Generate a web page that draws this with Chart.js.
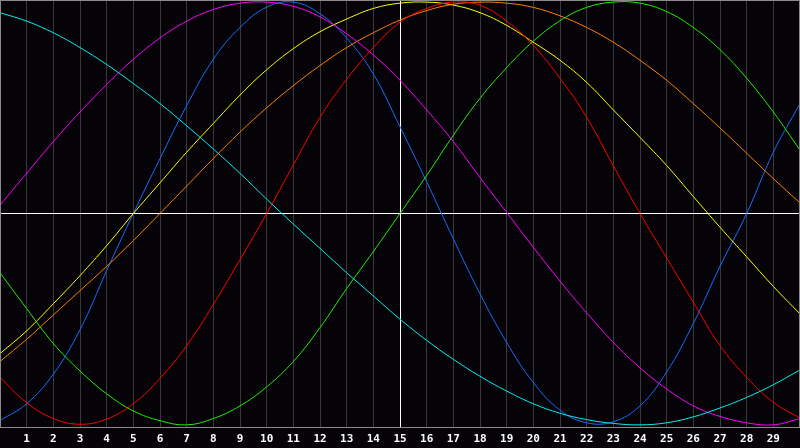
<!DOCTYPE html>
<html>
<head>
<meta charset="utf-8">
<script src="https://cdn.jsdelivr.net/npm/chart.js@4.4.0/dist/chart.umd.min.js"></script>
<style>
  html, body { margin: 0; padding: 0; background: #050307; }
  #wrap { width: 800px; height: 448px; }
</style>
</head>
<body>
<div id="wrap"><canvas id="waves"></canvas></div>
<script>
  // x positions 0..30, only 1..29 are labelled
  const xLabels = ["", "1", "2", "3", "4", "5", "6", "7", "8", "9", "10", "11", "12", "13", "14", "15",
    "16", "17", "18", "19", "20", "21", "22", "23", "24", "25", "26", "27", "28", "29", ""];

  const magenta = [0.04, 0.19, 0.34, 0.48, 0.61, 0.73, 0.83, 0.91, 0.965, 0.995, 1.0, 0.98, 0.93, 0.85, 0.75, 0.63,
    0.49, 0.34, 0.17, 0.005, -0.16, -0.32, -0.47, -0.61, -0.73, -0.83, -0.91, -0.96, -0.99, -1.0, -0.97];
  const cyan = [0.95, 0.91, 0.855, 0.785, 0.705, 0.615, 0.52, 0.415, 0.305, 0.19, 0.068, -0.05, -0.165, -0.28, -0.39, -0.5,
    -0.6, -0.69, -0.77, -0.84, -0.9, -0.945, -0.975, -0.993, -1.0, -0.99, -0.962, -0.92, -0.87, -0.81, -0.74];
  const blue = [-0.98, -0.9, -0.76, -0.55, -0.27, 0.0, 0.26, 0.51, 0.73, 0.88, 0.976, 1.0, 0.945, 0.83, 0.66, 0.41,
    0.15, -0.12, -0.38, -0.61, -0.8, -0.93, -0.99, -0.985, -0.91, -0.75, -0.52, -0.25, 0.0, 0.29, 0.52];
  const yellow = [-0.663, -0.555, -0.427, -0.294, -0.152, 0.0, 0.145, 0.29, 0.426, 0.56, 0.68, 0.78, 0.86, 0.92, 0.97, 0.995,
    1.0, 0.986, 0.95, 0.89, 0.81, 0.725, 0.62, 0.49, 0.36, 0.227, 0.08, -0.065, -0.205, -0.345, -0.475];
  const orange = [-0.7, -0.595, -0.48, -0.365, -0.25, -0.128, 0.0, 0.13, 0.26, 0.385, 0.5, 0.605, 0.7, 0.785, 0.855, 0.915,
    0.96, 0.99, 1.0, 0.995, 0.975, 0.935, 0.88, 0.81, 0.725, 0.63, 0.52, 0.405, 0.285, 0.165, 0.05];
  const red = [-0.775, -0.895, -0.97, -0.997, -0.972, -0.9, -0.78, -0.625, -0.43, -0.218, 0.0, 0.23, 0.455, 0.635, 0.785, 0.905,
    0.97, 1.0, 0.985, 0.91, 0.795, 0.64, 0.455, 0.225, 0.0, -0.21, -0.42, -0.625, -0.775, -0.893, -0.968];
  const green = [-0.28, -0.45, -0.615, -0.745, -0.853, -0.934, -0.98, -1.0, -0.97, -0.91, -0.82, -0.7, -0.54, -0.355, -0.18, 0.0,
    0.18, 0.37, 0.545, 0.69, 0.815, 0.912, 0.975, 1.0, 0.995, 0.955, 0.88, 0.775, 0.64, 0.48, 0.3];

  function wave(data, color) {
    return {
      data: data,
      borderColor: color,
      borderWidth: 1,
      fill: false,
      pointRadius: 0,
      tension: 0.4,
    };
  }

  // grey frame round the plot area
  const frame = {
    id: "frame",
    afterDraw(chart) {
      const a = chart.chartArea;
      const ctx = chart.ctx;
      ctx.save();
      ctx.strokeStyle = "#8a8a8a";
      ctx.lineWidth = 1;
      ctx.strokeRect(a.left + 0.5, a.top + 0.5, a.right - a.left - 1, a.bottom - a.top);
      ctx.restore();
    },
  };

  new Chart(document.getElementById("waves"), {
    type: "line",
    data: {
      labels: xLabels,
      datasets: [
        wave(cyan, "#00f0f0"),
        wave(magenta, "#ff00ff"),
        wave(green, "#22f000"),
        wave(red, "#ff0000"),
        wave(orange, "#ff8000"),
        wave(yellow, "#ffff00"),
        wave(blue, "#1a6cff"),
      ],
    },
    options: {
      responsive: true,
      maintainAspectRatio: false,
      animation: false,
      layout: { padding: 0 },
      plugins: {
        legend: { display: false },
        tooltip: { enabled: false },
      },
      scales: {
        x: {
          offset: false,
          afterFit: (s) => { s.paddingLeft = 0; s.paddingRight = 0; s.height = 21; },
          grid: {
            color: (c) => (c.index === 15 ? "#ffffff" : "#3a3a3a"),
            drawTicks: false,
          },
          border: { color: "#8a8a8a" },
          ticks: {
            color: "#ffffff",
            autoSkip: false,
            maxRotation: 0,
            padding: 6,
            font: { family: "DejaVu Sans Mono", size: 11, weight: "bold" },
          },
        },
        y: {
          min: -1.01,
          max: 1.01,
          afterFit: (s) => { s.width = 0; },
          grid: {
            color: (c) => (c.tick && c.tick.value === 0 ? "#ffffff" : "transparent"),
            drawTicks: false,
          },
          border: { display: false },
          ticks: { display: false },
          afterBuildTicks: (s) => { s.ticks = [{ value: -1.01 }, { value: 0 }, { value: 1.01 }]; },
        },
      },
    },
    plugins: [frame],
  });
</script>
</body>
</html>
